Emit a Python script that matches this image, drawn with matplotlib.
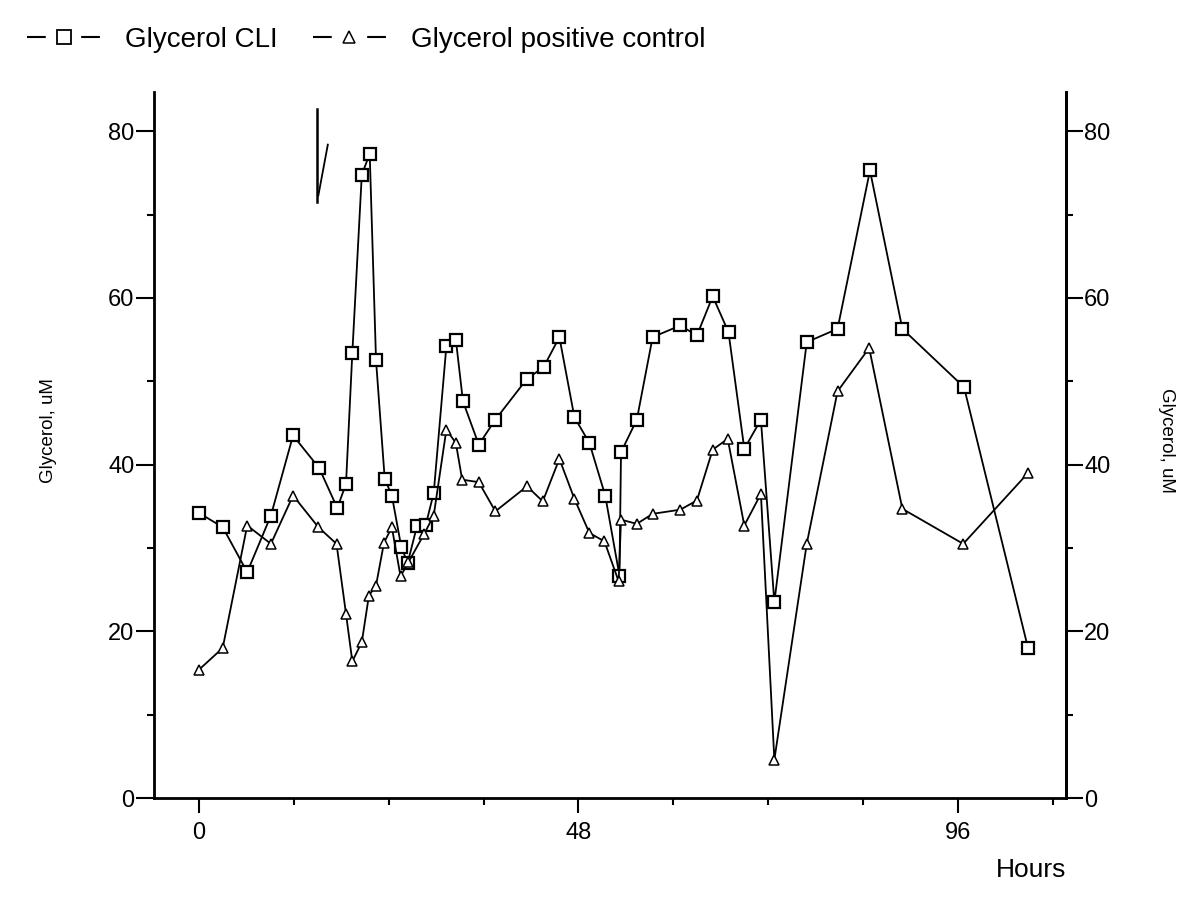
import matplotlib
matplotlib.use('Agg')
import matplotlib.pyplot as plt
from matplotlib.lines import Line2D
from matplotlib.ticker import FixedLocator, MultipleLocator

plt.rcParams['font.family'] = ['Liberation Sans', 'DejaVu Sans']

# Glycerol CLI (squares)
cli_hours = [0, 3, 6.1, 9.1, 11.9, 15.2, 17.5, 18.6, 19.4, 20.6, 21.6, 22.4, 23.5, 24.4, 25.6,
             26.4, 27.6, 28.7, 29.7, 31.3, 32.5, 33.4, 35.4, 37.5, 41.5, 43.6, 45.6, 47.5, 49.4,
             51.4, 53.2, 53.4, 55.4, 57.4, 60.9, 63.0, 65.0, 67.0, 69.0, 71.1, 72.8, 76.9, 80.8,
             84.9, 89.0, 96.8, 104.9]
cli_vals = [34.2, 32.5, 27.1, 33.9, 43.5, 39.6, 34.8, 37.7, 53.4, 74.8, 77.3, 52.5, 38.3, 36.3, 30.1,
            28.2, 32.7, 32.8, 36.6, 54.2, 55.0, 47.6, 42.4, 45.4, 50.3, 51.7, 55.3, 45.7, 42.6,
            36.3, 26.7, 41.5, 45.4, 55.3, 56.7, 55.5, 60.2, 55.9, 41.9, 45.4, 23.5, 54.7, 56.3,
            75.3, 56.3, 49.3, 18.0]

# Glycerol positive control (triangles)
ctrl_hours = [0, 3, 6.1, 9.1, 11.9, 15.1, 17.4, 18.6, 19.4, 20.6, 21.5, 22.4, 23.4, 24.4, 25.5,
              26.5, 28.5, 29.7, 31.3, 32.5, 33.3, 35.4, 37.5, 41.5, 43.5, 45.6, 47.5, 49.4, 51.3,
              53.1, 53.4, 55.4, 57.4, 60.9, 63.0, 65.0, 66.9, 69.0, 71.1, 72.8, 76.9, 80.8, 84.8,
              89.0, 96.7, 104.9]
ctrl_vals = [15.4, 18.0, 32.7, 30.5, 36.3, 32.5, 30.5, 22.1, 16.4, 18.7, 24.3, 25.5, 30.6, 32.5, 26.6,
             28.3, 31.7, 33.9, 44.2, 42.6, 38.2, 37.9, 34.4, 37.4, 35.6, 40.7, 35.9, 31.8, 30.8,
             26.0, 33.4, 32.9, 34.1, 34.6, 35.7, 41.8, 43.1, 32.7, 36.5, 4.6, 30.5, 48.8, 54.0,
             34.7, 30.5, 39.0]

# stray mark near the top of the original figure
mark_x = [14.9, 14.9]
mark_y = [82.7, 71.5]
mark2_x = [15.1, 16.3]
mark2_y = [72.3, 78.4]

y_ticks = [0, 20, 40, 60, 80]
x_ticks = [0, 48, 96]

fig = plt.figure(figsize=(12, 9.05), dpi=100)
ax = fig.add_axes([0.1283, 0.1182, 0.76, 0.78])

ax.plot(cli_hours, cli_vals, color='black', lw=1.3, marker='s', ms=8.5,
        mfc='white', mec='black', mew=1.6)
ax.plot(ctrl_hours, ctrl_vals, color='black', lw=1.3, marker='^', ms=7,
        mfc='white', mec='black', mew=1.1)
ax.plot(mark_x, mark_y, color='black', lw=1.8)
ax.plot(mark2_x, mark2_y, color='black', lw=1.3)

ax.set_xlim(-5.7, 109.7)
ax.set_ylim(0, 84.7)

ax.xaxis.set_major_locator(FixedLocator(x_ticks))
ax.xaxis.set_minor_locator(MultipleLocator(12))
ax.yaxis.set_major_locator(FixedLocator(y_ticks))
ax.yaxis.set_minor_locator(MultipleLocator(10))

ax.spines['top'].set_visible(False)
for s in ['left', 'right', 'bottom']:
    ax.spines[s].set_linewidth(2)

ax.tick_params(axis='both', which='major', direction='out', length=13, width=1.5,
               labelsize=17, pad=1)
ax.tick_params(axis='both', which='minor', direction='out', length=5, width=1.5)
ax.tick_params(axis='x', which='major', length=11, pad=6)

ax2 = ax.twinx()
ax2.set_ylim(ax.get_ylim())
ax2.yaxis.set_major_locator(FixedLocator(y_ticks))
ax2.yaxis.set_minor_locator(MultipleLocator(10))
ax2.spines['top'].set_visible(False)
ax2.spines['right'].set_linewidth(2)
ax2.tick_params(axis='y', which='major', direction='out', length=12, width=1.5,
                labelsize=17, pad=1)
ax2.tick_params(axis='y', which='minor', direction='out', length=5, width=1.5)

ax.set_ylabel('Glycerol, uM', fontsize=13.5)
ax.yaxis.set_label_coords(-0.106, 0.52)
ax2.set_ylabel('Glycerol, uM', fontsize=13.5, rotation=270, va='center')
ax2.yaxis.set_label_coords(1.11, 0.507)
ax.set_xlabel('Hours', fontsize=19, loc='right', labelpad=10)

# legend handles drawn as "- marker -" like the original
h1 = Line2D([], [], color='black', lw=1.5, ls=(0, (9, 17, 9)), marker='s', ms=10,
            mfc='white', mec='black', mew=1.3)
h2 = Line2D([], [], color='black', lw=1.5, ls=(0, (9, 17, 9)), marker='^', ms=9,
            mfc='white', mec='black', mew=1.1)
fig.legend(handles=[h1, h2], labels=['Glycerol CLI', 'Glycerol positive control'],
           loc='upper left', bbox_to_anchor=(0.002, 0.998), ncol=2, frameon=False,
           fontsize=20, handlelength=2.6, handletextpad=0.9, columnspacing=1.3)

fig.savefig('out.png', dpi=100)
